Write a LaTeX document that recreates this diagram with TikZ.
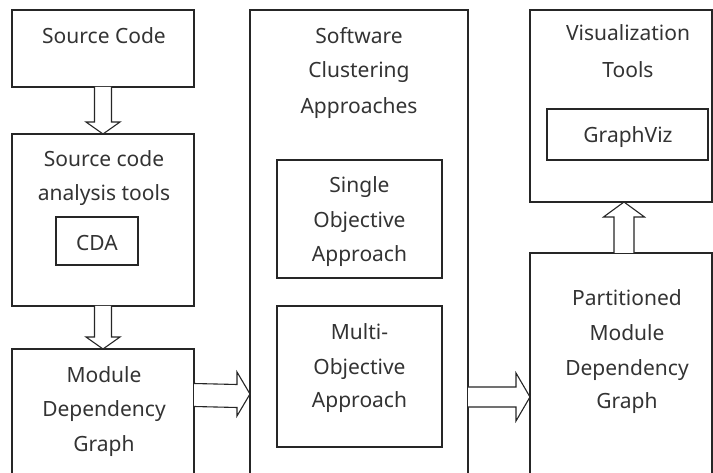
\documentclass[tikz,border=0pt]{standalone}
\usepackage{fontspec}
\setmainfont{Noto Sans}
\usetikzlibrary{calc}
\begin{document}
\begin{tikzpicture}[x=1pt,y=-1pt,
  box/.style={draw=black!85, line width=1.2pt, inner sep=0pt, outer sep=0pt, anchor=north west},
  lbl/.style={anchor=base, inner sep=0pt, text=black!80, font=\fontsize{21}{25}\selectfont},
  barrow/.style={draw=black!85, line width=1.1pt, fill=white, line join=miter}]
\useasboundingbox (0,0) rectangle (713,473);
% boxes
\node[box, minimum width=182pt, minimum height=77pt]  (b1) at (12,10) {};
\node[box, minimum width=182pt, minimum height=172pt] (b2) at (12,134) {};
\node[box, minimum width=82pt,  minimum height=48pt]  (cda) at (56,217) {};
\node[box, minimum width=182pt, minimum height=131pt] (b3) at (12,349) {};
\node[box, minimum width=218pt, minimum height=470pt] (b4) at (250,10) {};
\node[box, minimum width=165pt, minimum height=118pt] (single) at (277,160) {};
\node[box, minimum width=165pt, minimum height=141pt] (multi) at (277,306) {};
\node[box, minimum width=182pt, minimum height=192pt] (b5) at (530,10) {};
\node[box, minimum width=161pt, minimum height=51pt]  (gv) at (547,109) {};
\node[box, minimum width=182pt, minimum height=227pt] (b6) at (530,253) {};
% labels
\node[lbl] (t1) at (104,44) {Source Code};
\node[lbl] (t2a) at (104,167) {Source code};
\node[lbl] (t2b) at (104,201) {analysis tools};
\node[lbl] (t2c) at (97,251) {CDA};
\node[lbl] (t3a) at (104,382) {Module};
\node[lbl] (t3b) at (104,417) {Dependency};
\node[lbl] (t3c) at (104,451) {Graph};
\node[lbl] (t4a) at (359,44) {Software};
\node[lbl] (t4b) at (359,78) {Clustering};
\node[lbl] (t4c) at (359,114) {Approaches};
\node[lbl] (s1) at (359.5,193) {Single};
\node[lbl] (s2) at (359.5,228) {Objective};
\node[lbl] (s3) at (359.5,262) {Approach};
\node[lbl] (m1) at (359.5,340) {Multi-};
\node[lbl] (m2) at (359.5,374) {Objective};
\node[lbl] (m3) at (359.5,407) {Approach};
\node[lbl] (t5a) at (628,41) {Visualization};
\node[lbl] (t5b) at (628,78) {Tools};
\node[lbl] (t5c) at (628,143) {GraphViz};
\node[lbl] (t6a) at (627,306) {Partitioned};
\node[lbl] (t6b) at (627,341) {Module};
\node[lbl] (t6c) at (627,375) {Dependency};
\node[lbl] (t6d) at (627,408) {Graph};
% block arrows
\draw[barrow] ($(b1.south)+(-8.5,0)$) -- ($(b2.north)+(-8.5,-12)$) -- ($(b2.north)+(-17,-12)$)
  -- (b2.north) -- ($(b2.north)+(17,-12)$) -- ($(b2.north)+(8.5,-12)$) -- ($(b1.south)+(8.5,0)$);
\draw[barrow] ($(b2.south)+(-8.5,0)$) -- ($(b3.north)+(-8.5,-12)$) -- ($(b3.north)+(-17,-12)$)
  -- (b3.north) -- ($(b3.north)+(17,-12)$) -- ($(b3.north)+(8.5,-12)$) -- ($(b2.south)+(8.5,0)$);
\draw[barrow] ($(b3.north east)+(0,34.5)$) -- ($(b4.north west)+(-13,374.5)$) -- ($(b4.north west)+(-13,362)$)
  -- ($(b4.north west)+(0,384)$) -- ($(b4.north west)+(-13,406)$) -- ($(b4.north west)+(-13,397.5)$) -- ($(b3.north east)+(0,57.5)$);
\draw[barrow] ($(b4.north east)+(0,377)$) -- ($(b6.north west)+(-14,134)$) -- ($(b6.north west)+(-14,120)$)
  -- ($(b6.north west)+(0,144)$) -- ($(b6.north west)+(-14,168)$) -- ($(b6.north west)+(-14,154)$) -- ($(b4.north east)+(0,397)$);
\draw[barrow] ($(b6.north)+(-7,0)$) -- ($(b5.south)+(-7,15)$) -- ($(b5.south)+(-17.5,15)$)
  -- ($(b5.south)+(3,0)$) -- ($(b5.south)+(23.5,15)$) -- ($(b5.south)+(13,15)$) -- ($(b6.north)+(13,0)$);
\end{tikzpicture}
\end{document}
